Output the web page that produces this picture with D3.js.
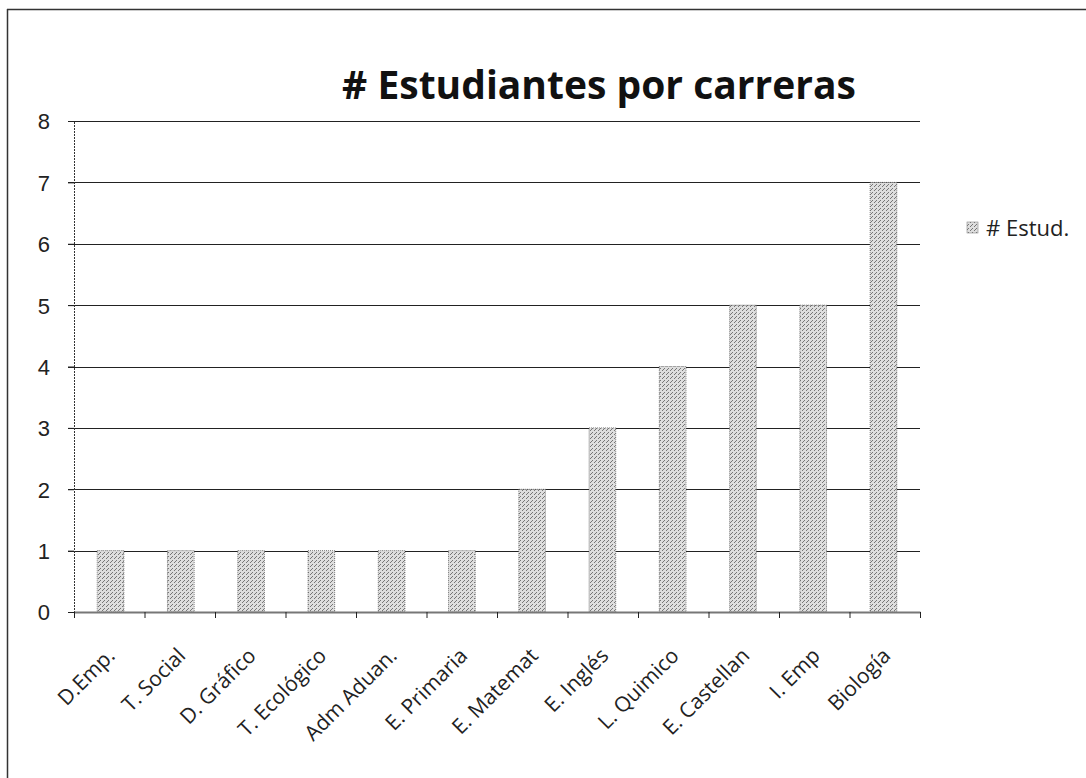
<!DOCTYPE html>
<html><head><meta charset="utf-8">
<script src="https://cdn.jsdelivr.net/npm/d3@7"></script>
<style>body{margin:0;background:#fff}svg{display:block}</style>
</head><body>
<svg id="c" width="1086" height="778"></svg>
<script>
const categories = ["D.Emp.","T. Social","D. Gráfico","T. Ecológico","Adm Aduan.","E. Primaria","E. Matemat","E. Inglés","L. Quimico","E. Castellan","I. Emp","Biología"];
const values = [1,1,1,1,1,1,2,3,4,5,5,7];
const yTicks = [0,1,2,3,4,5,6,7,8];
const seriesName = "# Estud.";
const title = "# Estudiantes por carreras";

const svg = d3.select("#c");
const m = {left:74, right:920, top:121, bottom:612};

const defs = svg.append("defs");
const pat = defs.append("pattern").attr("id","stip").attr("width",4).attr("height",4).attr("patternUnits","userSpaceOnUse");
pat.append("rect").attr("width",4).attr("height",4).attr("fill","#dedede");
[[0,0],[2,2],[3,1]].forEach(([x,y])=>pat.append("rect").attr("x",x).attr("y",y).attr("width",1).attr("height",1).attr("fill","#777"));

// outer border
svg.append("line").attr("x1",7).attr("x2",1086).attr("y1",9.5).attr("y2",9.5).attr("stroke","#333").attr("stroke-width",1.5);
svg.append("line").attr("x1",7.5).attr("x2",7.5).attr("y1",9).attr("y2",778).attr("stroke","#333").attr("stroke-width",1.5);

const x = d3.scaleBand().domain(categories).range([m.left,m.right]).paddingInner(0.62).paddingOuter(0.33);
const xb = d3.scaleBand().domain(categories).range([m.left,m.right]);
const y = d3.scaleLinear().domain([0,8]).range([m.bottom,m.top]);

// gridlines
svg.append("g").selectAll("line").data(yTicks.filter(d=>d>0)).join("line")
  .attr("x1",m.left-6).attr("x2",m.right).attr("y1",d=>Math.round(y(d))+0.5).attr("y2",d=>Math.round(y(d))+0.5)
  .attr("stroke","#222").attr("stroke-width",1);

// bars
svg.append("g").selectAll("rect").data(values).join("rect")
  .attr("x",(d,i)=>x(categories[i])).attr("width",x.bandwidth())
  .attr("y",d=>y(d)).attr("height",d=>y(0)-y(d))
  .attr("fill","url(#stip)").attr("stroke","#555").attr("stroke-width",0.7).attr("stroke-dasharray","1,1");

// y axis
const ya = d3.axisLeft(y).tickValues(yTicks).tickSize(6).tickFormat(d3.format("d"));
const gy = svg.append("g").attr("transform",`translate(${m.left},0)`).call(ya);
gy.select(".domain").attr("stroke","#333").attr("stroke-dasharray","2,1");
gy.selectAll(".tick line").attr("stroke","#222");
gy.selectAll("text").attr("x",-24).attr("dy","0.36em").attr("font-family","Liberation Sans, Arial, sans-serif").attr("font-size",22).attr("fill","#222");

// x axis
const xa = d3.axisBottom(xb).tickSize(0).tickFormat("");
const gx = svg.append("g").attr("transform",`translate(0,${m.bottom})`).call(xa);
gx.select(".domain").attr("stroke","#777").attr("stroke-width",2);
gx.selectAll(".tick").remove();
const bounds = categories.map(c=>xb(c)).concat([m.right]);
gx.selectAll("line.t").data(bounds).join("line").attr("class","t")
  .attr("x1",d=>d+0.5).attr("x2",d=>d+0.5).attr("y1",0).attr("y2",6).attr("stroke","#222");

// x labels
svg.append("g").selectAll("text").data(categories).join("text")
  .attr("transform",d=>`translate(${xb(d)+xb.bandwidth()/2+7},${m.bottom+45}) rotate(-45)`)
  .attr("text-anchor","end").attr("font-family","Open Sans, sans-serif").attr("font-size",21).attr("fill","#222")
  .text(d=>d);

// title
svg.append("text").attr("x",599).attr("y",99).attr("text-anchor","middle")
  .attr("font-family","Open Sans, sans-serif").attr("font-weight","bold").attr("font-size",39).attr("fill","#111")
  .text(title);

// legend
svg.append("rect").attr("x",967).attr("y",222).attr("width",11).attr("height",11).attr("fill","url(#stip)").attr("stroke","#888").attr("stroke-width",0.6);
svg.append("text").attr("x",986).attr("y",236).attr("font-family","Open Sans, sans-serif").attr("font-size",22).attr("fill","#222").text(seriesName);
</script>
</body></html>
